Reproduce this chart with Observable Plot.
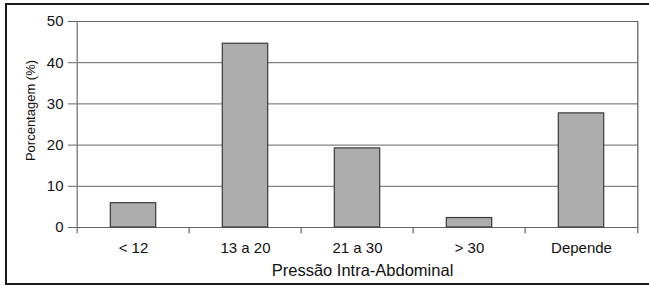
<!DOCTYPE html>
<html>
<head>
<meta charset="utf-8">
<script src="https://cdn.jsdelivr.net/npm/d3@7"></script>
<script src="https://cdn.jsdelivr.net/npm/@observablehq/plot@0.6"></script>
<style>
  html, body { margin: 0; padding: 0; background: #fff; overflow: hidden; width: 649px; height: 286px; }
  #chart { position: absolute; left: 0; top: 0; }
  #frame { position: absolute; left: 5px; top: 3px; width: 700px; height: 278px; border: 2.5px solid #1a1a1a; pointer-events: none; }
</style>
</head>
<body>
<div id="chart"></div>
<div id="frame"></div>
<script>
const categories = ["< 12", "13 a 20", "21 a 30", "> 30", "Depende"];
const values = [5.9, 44.6, 19.2, 2.3, 27.7];
const yTicks = [0, 10, 20, 30, 40, 50];
const xTitle = "Pressão Intra-Abdominal";
const yTitle = "Porcentagem (%)";

const data = categories.map((c, i) => ({c, v: values[i]}));

const W = 649, H = 286, ML = 75, MR = 11;
const step = (W - ML - MR) / categories.length;
const last = categories[categories.length - 1];

const chart = Plot.plot({
  width: W, height: H,
  marginLeft: ML, marginRight: MR, marginTop: 21, marginBottom: 59,
  style: {fontFamily: "'Liberation Sans', Arial, sans-serif", fontSize: "15px", color: "#111", background: "transparent"},
  x: {domain: categories, padding: 0, label: null},
  y: {domain: [0, 50], ticks: yTicks, label: null},
  marks: [
    Plot.ruleY(yTicks, {stroke: "#666", strokeWidth: 1}),
    Plot.barY(data, {x: "c", y: "v", fill: "#adadad", stroke: "#3a3a3a", strokeWidth: 1.2, insetLeft: 33.3, insetRight: 33.3}),
    Plot.ruleX([categories[0]], {x: d => d, dx: -step / 2, y1: -1.5, y2: 50, stroke: "#777", strokeWidth: 1.3}),
    Plot.ruleX([last], {x: d => d, dx: step / 2, y1: -1.5, y2: 50, stroke: "#666", strokeWidth: 1.3}),
    Plot.ruleX(categories.slice(1), {x: d => d, dx: -step / 2, y1: -1.5, y2: 0, stroke: "#666", strokeWidth: 1.2}),
    Plot.axisY({ticks: yTicks, tickSize: 7, tickPadding: 5, stroke: "#666", fill: "#111", fontSize: 15, label: null}),
    Plot.axisX({tickSize: 0, tickPadding: 15, fill: "#111", fontSize: 15, label: null}),
    Plot.text([xTitle], {frameAnchor: "bottom", dx: 5.5, dy: 43, fontSize: 16.5, fill: "#111", lineAnchor: "middle"}),
    Plot.text([yTitle], {frameAnchor: "top-left", rotate: -90, dx: -45, dy: 89, fontSize: 13, fill: "#111", lineAnchor: "middle", textAnchor: "middle"})
  ]
});
document.getElementById("chart").appendChild(chart);
</script>
</body>
</html>
